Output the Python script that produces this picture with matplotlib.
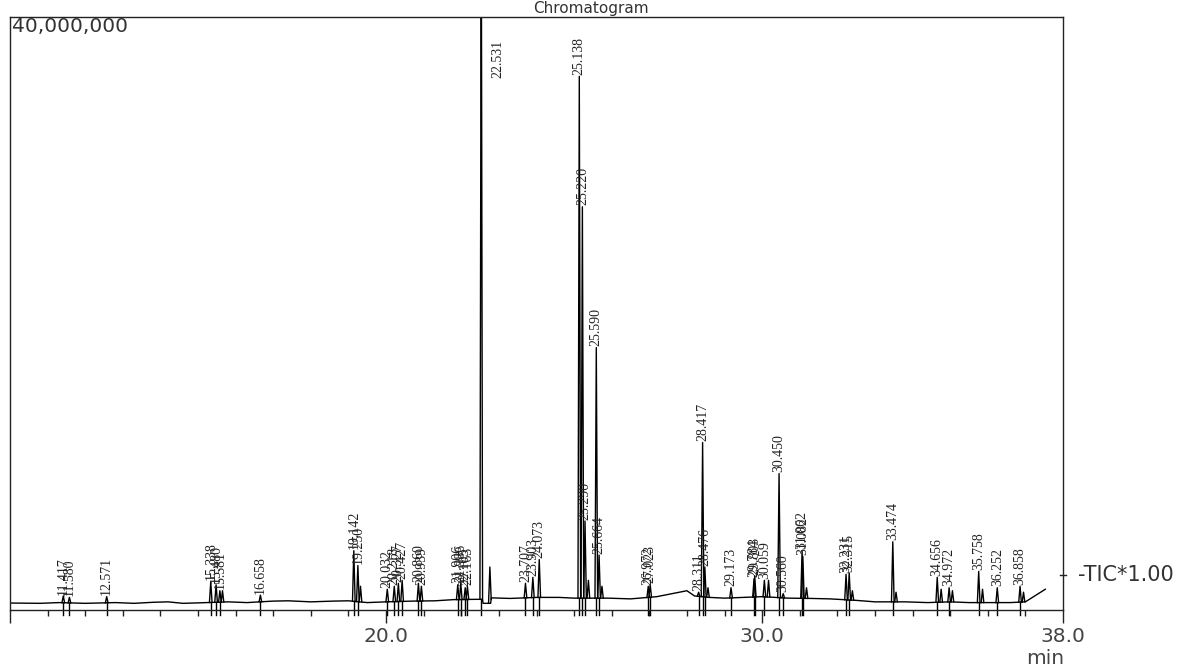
import numpy as np
import matplotlib.pyplot as plt
from matplotlib.ticker import MultipleLocator, FixedLocator

# TIC baseline (retention time in min, intensity in millions of counts)
base_t = [10.0, 10.8, 11.3, 12.0, 12.8, 13.3, 13.8, 14.2, 14.6, 15.0, 15.8, 16.3, 17.0, 17.4,
          18.0, 18.6, 19.0, 19.5, 20.0, 20.7, 21.3, 21.8, 22.4, 22.56, 22.58, 22.78, 22.80,
          23.3, 24.0, 24.6, 25.0, 25.9, 26.5, 27.2, 27.6, 28.0, 28.2, 28.6, 29.0, 29.5, 30.0,
          30.7, 31.3, 31.8, 32.5, 33.0, 33.8, 34.4, 35.0, 35.5, 36.0, 36.6, 37.0, 37.53]
base_v = [0.47, 0.45, 0.50, 0.45, 0.50, 0.45, 0.52, 0.55, 0.45, 0.48, 0.55, 0.50, 0.60, 0.62,
          0.55, 0.60, 0.62, 0.50, 0.55, 0.60, 0.62, 0.70, 0.72, 0.72, 0.45, 0.45, 0.82,
          0.78, 0.85, 0.85, 0.80, 0.80, 0.75, 0.90, 1.10, 1.30, 0.95, 0.85, 0.80, 0.85, 0.90,
          0.80, 0.78, 0.75, 0.65, 0.55, 0.55, 0.50, 0.55, 0.50, 0.50, 0.50, 0.55, 1.40]

# labelled peaks: retention time and apex height (millions)
peak_rt = [11.417, 11.580, 12.571, 15.338, 15.480, 15.581, 16.658, 19.142, 19.250, 20.032,
           20.218, 20.327, 20.427, 20.860, 20.939, 21.906, 21.986, 22.105, 22.163, 22.531,
           23.707, 23.903, 24.073, 25.138, 25.220, 25.290, 25.590, 25.664, 26.972, 27.023,
           28.311, 28.417, 28.476, 29.173, 29.784, 29.803, 30.059, 30.450, 30.560, 31.062,
           31.082, 32.231, 32.315, 33.474, 34.656, 34.972, 35.758, 36.252, 36.858]
peak_h = [0.95, 0.85, 0.90, 1.90, 1.70, 1.30, 1.00, 4.00, 3.00, 1.40,
          1.60, 1.80, 2.00, 1.80, 1.60, 1.70, 1.80, 1.50, 1.60, 48.0,
          1.80, 2.20, 3.40, 36.0, 27.2, 6.00, 17.7, 3.70, 1.60, 1.70,
          1.20, 11.3, 2.90, 1.50, 2.10, 2.30, 2.00, 9.20, 1.10, 4.00,
          3.60, 2.40, 2.50, 4.60, 2.20, 1.50, 2.60, 1.50, 1.60]

# small unlabelled spikes
minor_rt = [15.65, 19.32, 22.76, 25.38, 25.74, 28.56, 30.17, 31.18, 32.40, 33.56, 34.76, 35.06, 35.86, 36.95]
minor_h = [1.3, 1.6, 2.9, 2.0, 1.6, 1.5, 2.0, 1.5, 1.3, 1.2, 1.4, 1.3, 1.4, 1.2]

fig = plt.figure(figsize=(11.84, 6.69), dpi=100)
ax = fig.add_axes([10 / 1184, 59 / 669, 1053 / 1184, 593 / 669])

scale = 1e6
ax.plot(np.array(base_t), np.array(base_v) * scale, color='black', lw=1.0)

# peaks drawn as narrow spikes on top of the baseline
w = 0.035
for rt, h in zip(peak_rt + minor_rt, peak_h + minor_h):
    b0 = np.interp(rt - w, base_t, base_v)
    b1 = np.interp(rt + w, base_t, base_v)
    ax.plot([rt - w, rt, rt + w], [b0 * scale, h * scale, b1 * scale], color='black', lw=1.0)

# integration marks below the baseline
for rt in peak_rt:
    b = np.interp(rt, base_t, base_v)
    ax.plot([rt, rt], [-0.35 * scale, b * scale], color='black', lw=1.0, clip_on=False)

# peak labels (they overlap in the original too)
for rt, h in zip(peak_rt, peak_h):
    if h > 40:
        ax.text(22.98, 37.2 * scale, '%.3f' % rt, rotation=90, ha='center', va='center',
                fontsize=10, family='Liberation Serif', color='#222222')
    else:
        ax.annotate('%.3f' % rt, (rt, h * scale), xytext=(0, 1), textcoords='offset points',
                    rotation=90, ha='center', va='bottom', fontsize=10,
                    family='Liberation Serif', color='#222222')

ax.set_xlim(10, 38)
ax.set_ylim(0, 40 * scale)

ax.xaxis.set_major_locator(FixedLocator([10, 20, 30, 38]))
ax.set_xticklabels(['', '20.0', '30.0', '38.0'])
ax.xaxis.set_minor_locator(MultipleLocator(1))
ax.set_yticks([])
ax.tick_params(axis='x', which='major', direction='out', length=9.5, width=1.0,
               color='#222222', labelsize=14.5, labelcolor='#444444', pad=3)
ax.tick_params(axis='x', which='minor', direction='out', length=4.5, width=1.0, color='#222222')
for s in ax.spines.values():
    s.set_color('#222222')
    s.set_linewidth(1.0)

# small tick on the right spine for the TIC trace
ty = 35 / 593
ax.plot([0.997, 1.003], [ty, ty], transform=ax.transAxes, color='#222222', lw=1.0, clip_on=False)

fig.text(12 / 1184, 1 - 26 / 669, '40,000,000', ha='left', va='center',
         fontsize=14.5, color='#333333')
fig.text(591 / 1184, 1 - 9 / 669, 'Chromatogram', ha='center', va='center',
         fontsize=11, color='#333333')
fig.text(1078 / 1184, 1 - 575 / 669, '-TIC*1.00', ha='left', va='center',
         fontsize=15, color='#333333')
fig.text(1045 / 1184, 1 - 659 / 669, 'min', ha='center', va='center',
         fontsize=14.5, color='#444444')

fig.savefig('out.png', dpi=100)
